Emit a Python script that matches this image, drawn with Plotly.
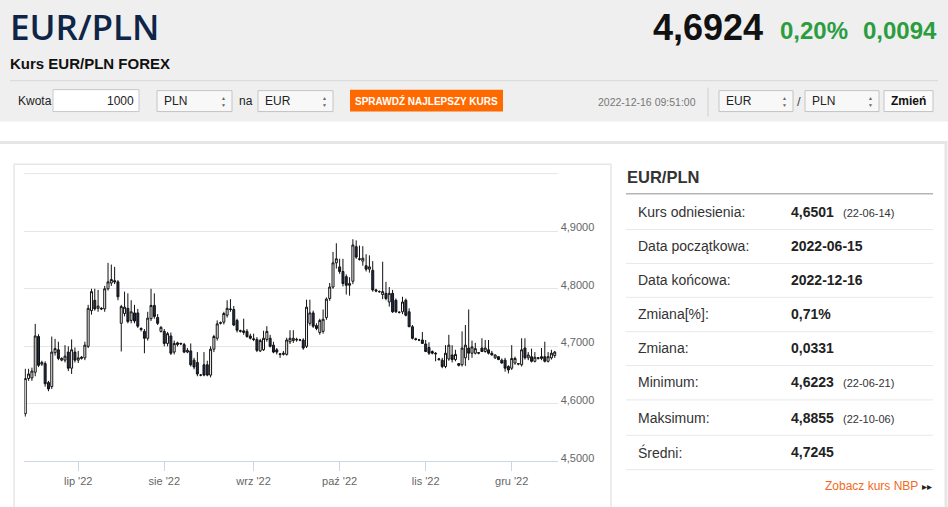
import pandas as pd
import plotly.graph_objects as go

## DATA - EUR/PLN daily candles (forex: Sun-Fri), 2022-06-13 .. 2022-12-16
dates = [d.strftime('%Y-%m-%d') for d in pd.date_range('2022-06-13', '2022-12-16') if d.weekday() != 5]

open_ = [4.583, 4.644, 4.645, 4.655, 4.717, 4.669, 4.670, 4.637, 4.630, 4.689,
         4.694, 4.676, 4.676, 4.690, 4.662, 4.690, 4.676, 4.679, 4.680, 4.700,
         4.762, 4.780, 4.766, 4.766, 4.765, 4.800, 4.810, 4.814, 4.812, 4.740,
         4.757, 4.766, 4.745, 4.758, 4.758, 4.729, 4.726, 4.714, 4.748, 4.771,
         4.750, 4.726, 4.726, 4.705, 4.718, 4.690, 4.703, 4.704, 4.703, 4.690,
         4.692, 4.676, 4.672, 4.650, 4.668, 4.668, 4.650, 4.695, 4.714, 4.740,
         4.742, 4.754, 4.765, 4.764, 4.745, 4.726, 4.724, 4.726, 4.718, 4.713,
         4.712, 4.692, 4.694, 4.712, 4.714, 4.702, 4.694, 4.687, 4.686, 4.686,
         4.708, 4.710, 4.711, 4.711, 4.711, 4.700, 4.740, 4.758, 4.736, 4.724,
         4.726, 4.750, 4.783, 4.803, 4.845, 4.838, 4.830, 4.821, 4.806, 4.813,
         4.873, 4.851, 4.848, 4.840, 4.834, 4.832, 4.798, 4.795, 4.790, 4.792,
         4.777, 4.792, 4.780, 4.759, 4.760, 4.780, 4.760, 4.734, 4.713, 4.711,
         4.711, 4.704, 4.698, 4.691, 4.688, 4.677, 4.676, 4.665, 4.678, 4.685,
         4.677, 4.670, 4.668, 4.680, 4.697, 4.688, 4.688, 4.688, 4.697, 4.691,
         4.694, 4.688, 4.680, 4.682, 4.676, 4.676, 4.665, 4.662, 4.671, 4.669,
         4.668, 4.697, 4.680, 4.682, 4.674, 4.679, 4.679, 4.682, 4.674, 4.680, 4.684]

high = [4.661, 4.661, 4.663, 4.739, 4.721, 4.675, 4.674, 4.640, 4.717, 4.713,
        4.708, 4.681, 4.702, 4.700, 4.712, 4.698, 4.692, 4.683, 4.708, 4.772,
        4.800, 4.800, 4.798, 4.768, 4.805, 4.845, 4.842, 4.838, 4.815, 4.772,
        4.795, 4.792, 4.780, 4.772, 4.765, 4.733, 4.730, 4.760, 4.800, 4.792,
        4.756, 4.735, 4.730, 4.725, 4.724, 4.710, 4.708, 4.706, 4.706, 4.697,
        4.705, 4.680, 4.690, 4.652, 4.690, 4.675, 4.700, 4.720, 4.745, 4.743,
        4.760, 4.780, 4.782, 4.770, 4.748, 4.729, 4.748, 4.730, 4.722, 4.722,
        4.716, 4.713, 4.727, 4.735, 4.720, 4.708, 4.697, 4.688, 4.692, 4.715,
        4.728, 4.728, 4.715, 4.713, 4.714, 4.781, 4.781, 4.762, 4.740, 4.748,
        4.764, 4.785, 4.810, 4.864, 4.879, 4.852, 4.852, 4.825, 4.820, 4.886,
        4.884, 4.875, 4.874, 4.860, 4.858, 4.848, 4.800, 4.797, 4.847, 4.812,
        4.803, 4.798, 4.783, 4.761, 4.786, 4.783, 4.766, 4.737, 4.715, 4.713,
        4.725, 4.711, 4.707, 4.693, 4.690, 4.680, 4.680, 4.702, 4.720, 4.702,
        4.694, 4.671, 4.726, 4.737, 4.764, 4.710, 4.706, 4.690, 4.714, 4.711,
        4.711, 4.692, 4.686, 4.683, 4.679, 4.680, 4.667, 4.702, 4.682, 4.671,
        4.714, 4.714, 4.690, 4.696, 4.690, 4.681, 4.697, 4.708, 4.690, 4.694, 4.692]

low = [4.578, 4.640, 4.640, 4.648, 4.664, 4.666, 4.630, 4.622, 4.626, 4.684,
       4.676, 4.674, 4.672, 4.657, 4.652, 4.672, 4.671, 4.677, 4.676, 4.697,
       4.755, 4.762, 4.760, 4.763, 4.760, 4.797, 4.805, 4.808, 4.780, 4.691,
       4.752, 4.740, 4.740, 4.740, 4.732, 4.726, 4.688, 4.710, 4.744, 4.748,
       4.737, 4.724, 4.700, 4.700, 4.685, 4.686, 4.700, 4.702, 4.688, 4.688,
       4.665, 4.660, 4.648, 4.648, 4.648, 4.648, 4.646, 4.690, 4.710, 4.738,
       4.738, 4.750, 4.760, 4.735, 4.724, 4.724, 4.720, 4.715, 4.712, 4.709,
       4.690, 4.690, 4.692, 4.708, 4.698, 4.688, 4.686, 4.680, 4.684, 4.684,
       4.704, 4.706, 4.708, 4.709, 4.694, 4.697, 4.736, 4.732, 4.728, 4.720,
       4.722, 4.746, 4.779, 4.800, 4.835, 4.826, 4.804, 4.790, 4.788, 4.808,
       4.852, 4.849, 4.840, 4.830, 4.828, 4.795, 4.794, 4.793, 4.782, 4.780,
       4.769, 4.758, 4.758, 4.757, 4.756, 4.752, 4.734, 4.712, 4.710, 4.709,
       4.704, 4.690, 4.685, 4.686, 4.674, 4.675, 4.662, 4.662, 4.675, 4.672,
       4.674, 4.665, 4.665, 4.666, 4.676, 4.680, 4.686, 4.686, 4.690, 4.689,
       4.686, 4.684, 4.678, 4.676, 4.670, 4.656, 4.653, 4.659, 4.668, 4.667,
       4.665, 4.677, 4.676, 4.672, 4.672, 4.677, 4.676, 4.672, 4.672, 4.677, 4.680]

close = [4.644, 4.652, 4.657, 4.718, 4.667, 4.672, 4.635, 4.626, 4.690, 4.696,
         4.679, 4.679, 4.683, 4.662, 4.694, 4.676, 4.680, 4.681, 4.702, 4.766,
         4.795, 4.765, 4.770, 4.765, 4.800, 4.812, 4.816, 4.812, 4.786, 4.769,
         4.768, 4.743, 4.760, 4.744, 4.735, 4.731, 4.714, 4.749, 4.771, 4.752,
         4.740, 4.733, 4.705, 4.722, 4.688, 4.705, 4.706, 4.705, 4.690, 4.693,
         4.668, 4.664, 4.652, 4.650, 4.650, 4.650, 4.695, 4.717, 4.739, 4.741,
         4.757, 4.766, 4.764, 4.737, 4.728, 4.727, 4.727, 4.717, 4.714, 4.712,
         4.693, 4.710, 4.714, 4.726, 4.700, 4.690, 4.690, 4.686, 4.688, 4.711,
         4.714, 4.714, 4.712, 4.711, 4.697, 4.768, 4.758, 4.735, 4.731, 4.745,
         4.747, 4.782, 4.803, 4.845, 4.852, 4.830, 4.809, 4.806, 4.809, 4.876,
         4.855, 4.852, 4.853, 4.834, 4.838, 4.798, 4.796, 4.795, 4.795, 4.783,
         4.792, 4.760, 4.760, 4.759, 4.777, 4.754, 4.734, 4.714, 4.712, 4.711,
         4.705, 4.691, 4.688, 4.688, 4.687, 4.678, 4.665, 4.688, 4.702, 4.677,
         4.686, 4.667, 4.697, 4.702, 4.688, 4.699, 4.696, 4.689, 4.691, 4.697,
         4.688, 4.685, 4.685, 4.677, 4.671, 4.662, 4.659, 4.679, 4.679, 4.670,
         4.694, 4.680, 4.685, 4.674, 4.681, 4.680, 4.682, 4.674, 4.682, 4.688, 4.690]

x_tick_vals = ['2022-07-01', '2022-08-01', '2022-09-01', '2022-10-02', '2022-11-01', '2022-12-01']
x_tick_text = ["lip '22", "sie '22", "wrz '22", "paź '22", "lis '22", "gru '22"]
y_tick_vals = [4.5, 4.6, 4.7, 4.8, 4.9, 5.0]
y_tick_text = ['4,5000', '4,6000', '4,7000', '4,8000', '4,9000', '']

## SIDE TABLE
table_labels = ['Kurs odniesienia:', 'Data początkowa:', 'Data końcowa:', 'Zmiana[%]:',
                'Zmiana:', 'Minimum:', 'Maksimum:', 'Średni:']
table_values = ['4,6501', '2022-06-15', '2022-12-16', '0,71%', '0,0331', '4,6223', '4,8855', '4,7245']
table_dates = ['(22-06-14)', '', '', '', '', '(22-06-21)', '(22-10-06)', '']

## PAGE GEOMETRY (pixels)
W, H = 948, 507
BASE = 'Liberation Sans, Arial, sans-serif'
PLOT_L, PLOT_R, PLOT_T, PLOT_B = 24.3, 557.7, 174.3, 463.3


def px(x):
    return x / W


def py(y):
    return 1 - y / H


shapes = []
notes = []


def rect(x0, y0, x1, y1, fill='rgba(0,0,0,0)', line='rgba(0,0,0,0)', lw=1):
    shapes.append(dict(type='rect', xref='paper', yref='paper', layer='below',
                       x0=px(x0), x1=px(x1), y0=py(y0), y1=py(y1),
                       fillcolor=fill, line=dict(color=line, width=lw)))


def hline(x0, x1, y, color, lw=1):
    shapes.append(dict(type='line', xref='paper', yref='paper', layer='below',
                       x0=px(x0), x1=px(x1), y0=py(y), y1=py(y), line=dict(color=color, width=lw)))


def vline(x, y0, y1, color, lw=1):
    shapes.append(dict(type='line', xref='paper', yref='paper', layer='below',
                       x0=px(x), x1=px(x), y0=py(y0), y1=py(y1), line=dict(color=color, width=lw)))


def text(x, y, s, size=12, color='#333', bold=False, anchor='left', family=BASE, weight=None):
    w = weight if weight else ('bold' if bold else 'normal')
    notes.append(dict(x=px(x), y=py(y), xref='paper', yref='paper', text=s, showarrow=False,
                      xanchor=anchor, yanchor='middle', borderpad=0,
                      font=dict(size=size, color=color, family=family, weight=w)))


def select(x0, x1, label):
    rect(x0, 91, x1, 112, fill='#f8f8f8', line='#c4c4c4')
    text(x0 + 6, 101.5, label, size=12, color='#222')
    text(x1 - 9, 98, '▲', size=5, color='#666', anchor='center')
    text(x1 - 9, 105, '▼', size=5, color='#666', anchor='center')


## HEADER
rect(-2, -2, 950, 122, fill='#efefef')
rect(-2, 143, 946, 520, fill='white', line='#e6e6e6', lw=3)
text(9, 27, 'EUR/PLN', size=35, color='#0f2548', family='Open Sans, Liberation Sans', weight=600)
text(764, 28, '4,6924', size=36, color='#111', bold=True, anchor='right')
text(779, 31, '0,20%', size=24, color='#2a9d3f', bold=True)
text(938, 31, '0,0094', size=24, color='#2a9d3f', bold=True, anchor='right')
text(9, 64, 'Kurs EUR/PLN FOREX', size=15, color='#111', bold=True)
hline(10, 938, 81, '#d6d6d6')

## CONVERTER ROW
text(17, 101.5, 'Kwota', size=12, color='#222')
rect(53, 90, 139, 112, fill='white', line='#c8c8c8')
text(135, 101.5, '1000', size=12, color='#222', anchor='right')
select(157, 232, 'PLN')
text(238, 101.5, 'na', size=12, color='#222')
select(258, 333, 'EUR')
rect(350, 90, 503, 112, fill='#ff6a00')
text(426.5, 101.5, 'SPRAWDŹ NAJLEPSZY KURS', size=10, color='white', bold=True, anchor='center')
text(647, 102, '2022-12-16 09:51:00', size=10.5, color='#777', anchor='center')
vline(708, 88, 117, '#d0d0d0')
select(719, 793, 'EUR')
text(799, 101.5, '/', size=13, color='#444', anchor='center')
select(805, 879, 'PLN')
rect(884, 91, 933, 112, fill='#fbfbfb', line='#c4c4c4')
text(908.5, 101.5, 'Zmień', size=12, color='#111', bold=True, anchor='center')

## CHART BOX
rect(14, 165, 611, 530, line='#e6e6e6', lw=1.5)
hline(PLOT_L, PLOT_R, PLOT_T, '#e6e6e6')

## SIDE TABLE
text(626, 178, 'EUR/PLN', size=16.5, color='#333', bold=True)
hline(626, 933, 194.5, '#b5b5b5', 1.5)
row_y = [213, 247, 281, 315.5, 349.5, 384, 419.5, 454]
for k in range(len(table_labels)):
    text(637, row_y[k], table_labels[k], size=14, color='#333')
    text(790, row_y[k], table_values[k], size=14, color='#222', bold=True)
    if table_dates[k]:
        text(842, row_y[k] + 1, table_dates[k], size=11, color='#333')
    hline(626, 933, row_y[k] + 17.5, '#e8e8e8')
text(919, 488, 'Zobacz kurs NBP', size=12, color='#f26a21', anchor='right')
text(927, 488.5, '▸▸', size=10, color='#222', anchor='center')

## CANDLES
fig = go.Figure(go.Candlestick(
    x=dates, open=open_, high=high, low=low, close=close,
    increasing=dict(line=dict(color='#111', width=1), fillcolor='white'),
    decreasing=dict(line=dict(color='#111', width=1), fillcolor='#1c2c4c'),
    whiskerwidth=0, hoverinfo='skip'))

fig.update_layout(
    width=W, height=H, margin=dict(l=0, r=0, t=0, b=0),
    paper_bgcolor='white', plot_bgcolor='rgba(0,0,0,0)',
    showlegend=False, shapes=shapes, annotations=notes,
    font=dict(family=BASE), boxgap=0.15,
    xaxis=dict(type='category', domain=[px(PLOT_L), px(PLOT_R)], range=[-0.3, 160.9],
               tickvals=x_tick_vals, ticktext=x_tick_text, ticks='outside', ticklen=9,
               tickcolor='#ccd6eb', showline=True, linecolor='#ccd6eb', showgrid=False,
               tickfont=dict(size=11, color='#666'), rangeslider=dict(visible=False)),
    yaxis=dict(domain=[py(PLOT_B), py(PLOT_T)], range=[4.5, 5.0], side='right',
               tickvals=y_tick_vals, ticktext=y_tick_text, showgrid=True, gridcolor='#e6e6e6',
               ticks='', ticklabelposition='outside top', ticklabelshift=4, zeroline=False,
               showline=False, ticklabelstandoff=2, tickfont=dict(size=11, color='#666')),
)

fig.write_html("out.html", config={'displayModeBar': False},
               post_script="document.body.style.margin='0';")
